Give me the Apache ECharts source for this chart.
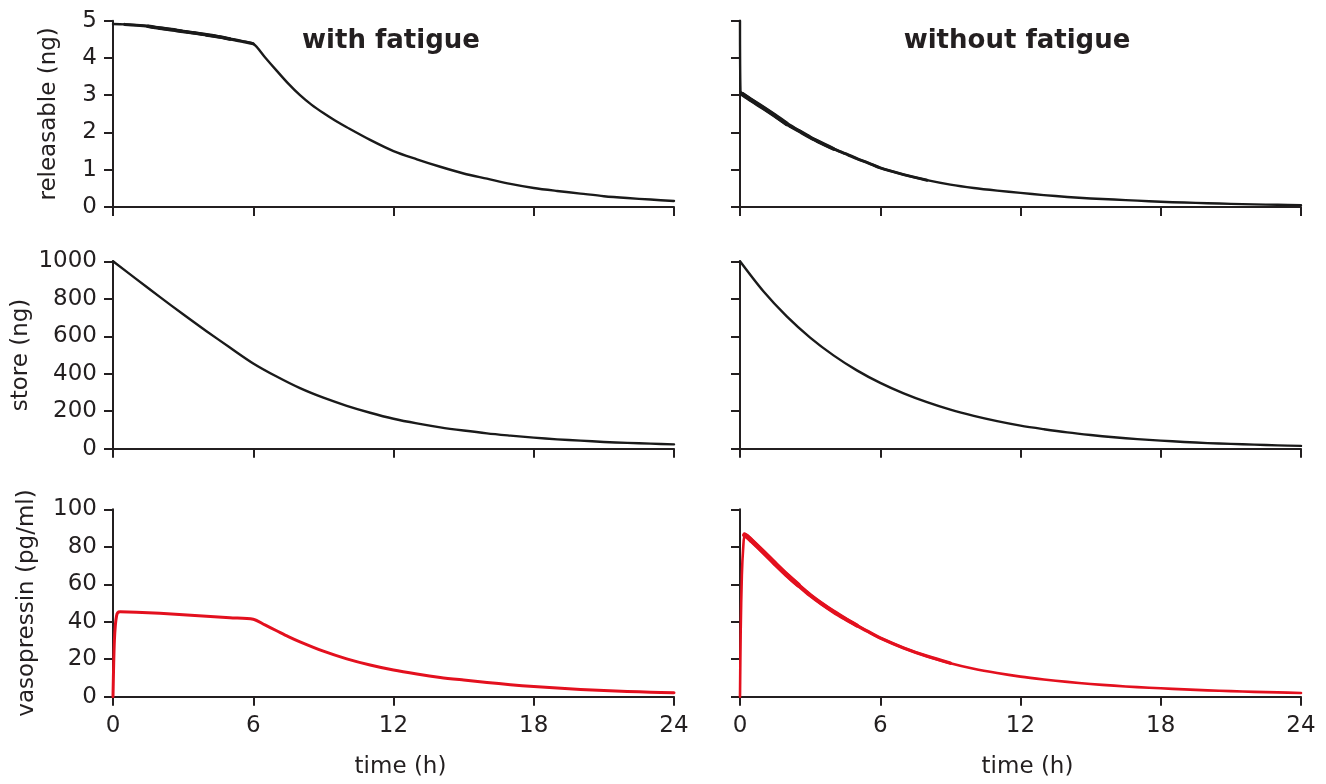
<!DOCTYPE html>
<html><head><meta charset="utf-8">
<script src="https://cdn.jsdelivr.net/npm/echarts@6/dist/echarts.min.js"></script>
<style>html,body{margin:0;padding:0;background:#fff}#c{width:1326px;height:784px}</style>
</head><body><div id="c"></div>
<script>
// ---- data (time in h, value) ----
const xTicks = [0, 6, 12, 18, 24];
const titles = ['with fatigue', 'without fatigue'];
const yNames = ['releasable (ng)', 'store (ng)', 'vasopressin (pg/ml)'];
const xName = 'time (h)';

const relFat = [[0,4.91],[0.5,4.90],[1,4.88],[1.5,4.85],[2,4.80],[2.5,4.76],[3,4.71],[3.5,4.67],[4,4.62],[4.5,4.57],[5,4.51],[5.5,4.45],[6,4.38],[6.5,4.02],[7,3.66],[7.5,3.31],[8,3.00],[8.5,2.74],[9,2.52],[9.5,2.32],[10,2.14],[11,1.80],[12,1.50],[13,1.28],[14,1.08],[15,0.90],[16,0.76],[17,0.62],[18,0.51],[19,0.43],[20,0.36],[21,0.29],[22,0.24],[23,0.20],[24,0.16]];
const relNoFat = [[0,5.0],[0.02,3.12],[0.1,3.03],[0.5,2.86],[1,2.66],[1.5,2.45],[2,2.23],[2.5,2.05],[3,1.87],[3.5,1.71],[4,1.56],[4.5,1.43],[5,1.30],[5.5,1.18],[6,1.05],[7,0.87],[8,0.72],[9,0.60],[10,0.51],[11,0.44],[12,0.38],[13,0.32],[14,0.27],[15,0.23],[16,0.20],[17,0.17],[18,0.14],[19,0.12],[20,0.10],[21,0.085],[22,0.07],[23,0.06],[24,0.05]];
const storeFat = [[0,1000],[1,905],[2,810],[3,717],[4,627],[5,540],[6,455],[7,385],[8,323],[9,272],[10,229],[11,192],[12,160],[13,135],[14,114],[15,97],[16,82],[17,70],[18,59],[19,50],[20,43],[21,36],[22,31],[23,27],[24,23]];
const storeNoFat = [[0,1000],[1,840],[2,706],[3,593],[4,498],[5,418],[6,351],[7,295],[8,248],[9,208],[10,175],[11,147],[12,123],[13,104],[14,87],[15,73],[16,61],[17,51],[18,43],[19,36],[20,30],[21,26],[22,22],[23,18],[24,15]];
const vpFat = [[0,0],[0.03,18],[0.06,30],[0.1,38],[0.15,43],[0.2,44.8],[0.3,45.3],[1,45.1],[2,44.5],[3,43.7],[4,42.9],[5,42.1],[6,41.3],[6.5,38.3],[7,35.2],[7.5,32.1],[8,29.3],[9,24.3],[10,20.2],[11,16.9],[12,14.2],[13,12.1],[14,10.3],[15,8.9],[16,7.6],[17,6.4],[18,5.4],[19,4.6],[20,3.9],[21,3.3],[22,2.8],[23,2.4],[24,2.1]];
const vpNoFat = [[0,0],[0.03,35],[0.08,65],[0.14,80],[0.2,86.3],[0.3,85.5],[0.5,83.2],[1,77.2],[1.5,71],[2,65],[2.5,59.5],[3,54.2],[3.5,49.6],[4,45.4],[4.5,41.6],[5,38],[5.5,34.6],[6,31.3],[7,26],[8,21.6],[9,17.9],[10,14.9],[11,12.6],[12,10.7],[13,9.2],[14,7.9],[15,6.8],[16,5.9],[17,5.1],[18,4.5],[19,3.9],[20,3.4],[21,3.0],[22,2.6],[23,2.3],[24,2.0]];

const yRanges = [[0,5,1],[0,1000,200],[0,100,20]];

// ---- layout / style ----
const AX = '#231f20', BLK = '#1a1a1a', RED = '#e3101e';
const FONT = 'DejaVu Sans';
const FS = 23;
const colLeft = [113, 740], W = 561;
const rowTop = [20.7, 261.3, 509.3], rowH = [186.3, 187.4, 187.4];
const nameGaps = [52, 80, 74];

const grids = [], xAxes = [], yAxes = [];
for (let r = 0; r < 3; r++) {
  for (let c = 0; c < 2; c++) {
    grids.push({left: colLeft[c], top: rowTop[r], width: W, height: rowH[r], containLabel: false});
    xAxes.push({
      type: 'value', gridIndex: grids.length - 1, min: xTicks[0], max: xTicks[xTicks.length-1], interval: 6,
      axisLine: {show: true, onZero: false, lineStyle: {color: AX, width: 2}},
      axisTick: {show: true, length: 9, lineStyle: {color: AX, width: 2}},
      splitLine: {show: false},
      axisLabel: {show: r === 2, fontSize: FS, fontFamily: FONT, color: AX, margin: 18, formatter: v => String(v)},
      name: r === 2 ? xName : '', nameLocation: 'middle', nameGap: 59,
      nameTextStyle: {fontSize: FS, fontFamily: FONT, color: AX, padding: [0, 0, 0, 14]}
    });
    yAxes.push({
      type: 'value', gridIndex: grids.length - 1, min: yRanges[r][0], max: yRanges[r][1], interval: yRanges[r][2],
      axisLine: {show: true, onZero: false, lineStyle: {color: AX, width: 2}},
      axisTick: {show: true, length: 9, lineStyle: {color: AX, width: 2}},
      splitLine: {show: false},
      axisLabel: {show: c === 0, fontSize: FS, fontFamily: FONT, color: AX, margin: 16, formatter: v => String(v)},
      name: c === 0 ? yNames[r] : '', nameLocation: 'middle', nameGap: nameGaps[r],
      nameTextStyle: {fontSize: FS, fontFamily: FONT, color: AX}
    });
  }
}

function seg(arr, t0, t1) { return arr.filter(p => p[0] >= t0 && p[0] <= t1); }
function line(gi, data, color, width) {
  return {type: 'line', xAxisIndex: gi, yAxisIndex: gi, data: data, symbol: 'none', showSymbol: false,
    smooth: 0.3,
    lineStyle: {color: color, width: width, cap: 'round', join: 'round'}, silent: true, animation: false, z: 3};
}

const series = [
  line(0, relFat, BLK, 2.4), line(0, seg(relFat, 0.5, 6), BLK, 3.1), line(0, seg(relFat, 1.5, 5), BLK, 3.7),
  line(1, relNoFat, BLK, 2.4), line(1, seg(relNoFat, 0.1, 8), BLK, 3.0), line(1, seg(relNoFat, 0.1, 4), BLK, 3.8), line(1, seg(relNoFat, 0.1, 2), BLK, 4.6),
  line(2, storeFat, BLK, 2.4),
  line(3, storeNoFat, BLK, 2.4),
  line(4, vpFat, RED, 3),
  line(5, vpNoFat, RED, 2.6), line(5, seg(vpNoFat, 0.2, 9), RED, 3.4), line(5, seg(vpNoFat, 0.2, 5), RED, 4.2), line(5, seg(vpNoFat, 0.2, 2.5), RED, 5)
];

const chart = echarts.init(document.getElementById('c'), null, {renderer: 'canvas'});
chart.setOption({
  animation: false,
  backgroundColor: '#fff',
  grid: grids, xAxis: xAxes, yAxis: yAxes, series: series,
  graphic: [
    {type: 'text', x: 391, y: 41, style: {text: titles[0], font: 'bold 26px "DejaVu Sans"', fill: AX, align: 'center', verticalAlign: 'middle', textAlign: 'center', textVerticalAlign: 'middle'}},
    {type: 'text', x: 1017, y: 41, style: {text: titles[1], font: 'bold 26px "DejaVu Sans"', fill: AX, align: 'center', verticalAlign: 'middle', textAlign: 'center', textVerticalAlign: 'middle'}}
  ]
});
</script>
</body></html>
